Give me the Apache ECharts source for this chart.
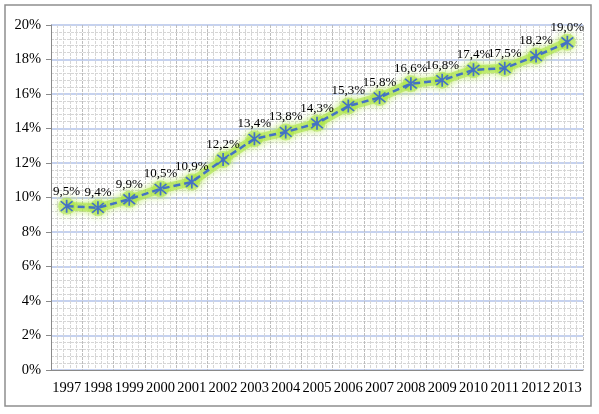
<!DOCTYPE html>
<html>
<head>
<meta charset="utf-8">
<script src="https://cdn.jsdelivr.net/npm/echarts@6/dist/echarts.min.js"></script>
<style>
  html, body { margin: 0; padding: 0; background: #fff; }
  #chart { width: 599px; height: 414px; }
</style>
</head>
<body>
<div id="chart"></div>
<script>
// years on the x axis
const years = ['1997', '1998', '1999', '2000', '2001', '2002', '2003', '2004', '2005',
  '2006', '2007', '2008', '2009', '2010', '2011', '2012', '2013'];
// share, in percent
const shareValues = [9.5, 9.4, 9.9, 10.5, 10.9, 12.2, 13.4, 13.8, 14.3,
  15.3, 15.8, 16.6, 16.8, 17.4, 17.5, 18.2, 19.0];
// y axis range (percent)
const yMin = 0, yMax = 20, yStep = 2;

const serif = '"Liberation Serif", "Times New Roman", serif';

// asterisk marker, like the excel "star" marker
const asterisk = 'path://M-1,-9L1,-9L1,9L-1,9Z' +
  'M-7.5,-6L-6,-7.5L7.5,6L6,7.5Z' +
  'M6,-7.5L7.5,-6L-6,7.5L-7.5,6Z';

const chart = echarts.init(document.getElementById('chart'));

chart.setOption({
  animation: false,
  backgroundColor: '#fff',
  graphic: [{
    type: 'rect',
    shape: { x: 5, y: 5, width: 586, height: 401 },
    style: { fill: 'none', stroke: '#8e8e8e', lineWidth: 1.5 },
    silent: true
  }],
  grid: { left: 51, right: 16, top: 25, bottom: 44 },
  xAxis: [{
    type: 'category',
    data: years,
    boundaryGap: true,
    axisLine: { lineStyle: { color: '#8a8a8a', width: 1 } },
    axisTick: { length: 5, lineStyle: { color: '#8a8a8a' } },
    axisLabel: { color: '#000', fontFamily: serif, fontSize: 14.5, margin: 11, interval: 0 },
    splitLine: { show: false }
  }, {
    // only here to draw the fine vertical grid
    type: 'value',
    min: 0,
    max: years.length,
    interval: 1,
    position: 'bottom',
    axisLine: { show: false },
    axisTick: { show: false },
    axisLabel: { show: false },
    splitLine: { show: true, lineStyle: { color: '#bdbdbd', type: [3, 1], width: 1 } },
    minorTick: { show: false, splitNumber: 5 },
    minorSplitLine: { show: true, lineStyle: { color: '#d6d6d6', type: [3, 1], width: 1 } }
  }],
  yAxis: {
    type: 'value',
    min: yMin,
    max: yMax,
    interval: yStep,
    axisLine: { show: true, lineStyle: { color: '#8a8a8a', width: 1 } },
    axisTick: { show: true, length: 5, lineStyle: { color: '#8a8a8a' } },
    axisLabel: {
      color: '#000', fontFamily: serif, fontSize: 14.5, margin: 10,
      formatter: v => v + '%'
    },
    splitLine: { show: true, lineStyle: { color: '#b3c3ea', width: 1.5 } },
    minorTick: { show: false, splitNumber: 5 },
    minorSplitLine: { show: true, lineStyle: { color: '#d6d6d6', type: [3, 1], width: 1 } }
  },
  series: [{
    // green glow under the line
    type: 'line',
    data: shareValues,
    xAxisIndex: 0,
    z: 3,
    silent: true,
    symbol: 'circle',
    symbolSize: 17,
    itemStyle: {
      color: 'rgba(170, 228, 70, 0.55)',
      shadowColor: '#b4ea4a', shadowBlur: 8
    },
    lineStyle: {
      color: 'rgba(170, 228, 70, 0.6)', width: 9,
      shadowColor: '#b4ea4a', shadowBlur: 7
    }
  }, {
    type: 'line',
    data: shareValues,
    xAxisIndex: 0,
    z: 5,
    symbol: asterisk,
    symbolSize: 13,
    itemStyle: { color: '#4472c4' },
    lineStyle: { color: '#4472c4', width: 2.5, type: [7, 4] },
    label: {
      show: true,
      position: 'top',
      distance: 2,
      color: '#000',
      fontFamily: serif,
      fontSize: 13,
      formatter: p => p.value.toFixed(1).replace('.', ',') + '%'
    }
  }]
});
</script>
</body>
</html>
